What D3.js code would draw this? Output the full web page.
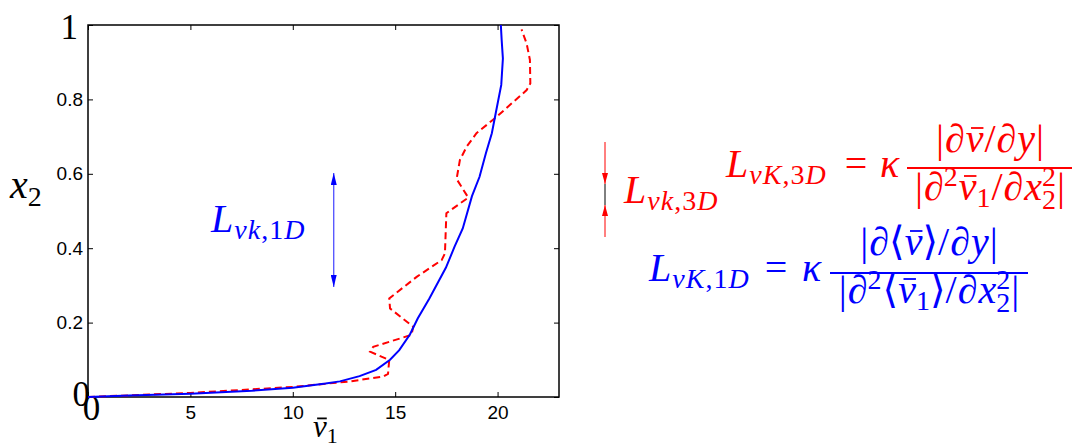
<!DOCTYPE html>
<html>
<head>
<meta charset="utf-8">
<script src="https://cdn.jsdelivr.net/npm/d3@7"></script>
<style>
body { margin: 0; background: #fff; }
.tick text { font-family: "Liberation Sans", Arial, sans-serif; font-size: 19px; fill: #000; }
</style>
</head>
<body>
<svg id="chart" width="1080" height="443"></svg>
<script>
// blue solid: <v1> (1D average), red dashed: local v1 (3D)
var blueV  = [0, 2, 5, 8, 10, 11.6, 12.3, 13.26, 14.07, 14.75, 15.2, 15.72, 16.1, 16.67, 17.48, 17.9, 18.3, 18.75, 19.12, 19.43, 19.72, 19.9, 20.18, 20.26, 20.2, 20.16];
var blueX2 = [0, 0.004, 0.009, 0.017, 0.025, 0.036, 0.042, 0.056, 0.073, 0.1, 0.126, 0.168, 0.211, 0.265, 0.348, 0.404, 0.453, 0.54, 0.592, 0.655, 0.709, 0.76, 0.839, 0.91, 0.96, 1.0];

var redV  = [0, 5, 10, 12.8, 14.42, 14.65, 14.71, 13.77, 13.93, 15.8, 15.88, 14.75, 14.71, 16.05, 17.27, 17.43, 17.5, 18.57, 18.0, 18.16, 18.49, 18.97, 19.95, 21.42, 21.6, 21.58, 21.42, 21.17];
var redX2 = [0, 0.011, 0.027, 0.042, 0.055, 0.062, 0.0995, 0.122, 0.135, 0.167, 0.189, 0.238, 0.265, 0.323, 0.368, 0.386, 0.494, 0.536, 0.586, 0.637, 0.673, 0.709, 0.753, 0.825, 0.843, 0.906, 0.95, 0.988];

var xTicks = [0, 5, 10, 15, 20];
var yTicks = [0, 0.2, 0.4, 0.6, 0.8, 1];
var yTickLabels = ["0", "0.2", "0.4", "0.6", "0.8", "1"];

// L_vk,1D arrow (data coords)
var arrow1D = {v: 12, from: 0.296, to: 0.602};

var serif = '"Liberation Serif", "Times New Roman", "DejaVu Serif", serif';

var svg = d3.select('#chart');
var x = d3.scaleLinear().domain([0, 23]).range([88, 559]);
var y = d3.scaleLinear().domain([0, 1]).range([397, 25]);

var defs = svg.append('defs');
function marker(id, color, w, l) {
    defs.append('marker')
        .attr('id', id)
        .attr('viewBox', '0 0 ' + l + ' ' + w)
        .attr('refX', l).attr('refY', w / 2)
        .attr('markerWidth', l).attr('markerHeight', w)
        .attr('markerUnits', 'userSpaceOnUse')
        .attr('orient', 'auto-start-reverse')
        .append('path')
        .attr('d', 'M0,0L' + l + ',' + (w / 2) + 'L0,' + w + 'Z')
        .attr('fill', color);
}
marker('headB', '#0000ff', 6, 12);
marker('headR', '#ff0000', 6, 11);

// axes
var gx = svg.append('g').attr('transform', 'translate(0,397)')
    .call(d3.axisBottom(x).tickValues(xTicks).tickSize(-5).tickPadding(9).tickFormat(d3.format('d')));
svg.append('g').attr('transform', 'translate(0,25)')
    .call(d3.axisTop(x).tickValues(xTicks).tickSize(-5).tickFormat(''));
var gy = svg.append('g').attr('transform', 'translate(88,0)')
    .call(d3.axisLeft(y).tickValues(yTicks).tickSize(-5).tickPadding(5)
        .tickFormat(function(d, i) { return yTickLabels[i]; }));
svg.append('g').attr('transform', 'translate(559,0)')
    .call(d3.axisRight(y).tickValues(yTicks).tickSize(-5).tickFormat(''));
svg.selectAll('.domain').remove();
svg.selectAll('.tick line').attr('stroke', '#000').attr('stroke-width', 1);

// big serif limit labels
gx.selectAll('.tick text').filter(function(d) { return d === 0; })
    .style('font-family', serif).style('font-size', '35px')
    .attr('y', 23).attr('dy', 0).attr('x', 3);
gy.selectAll('.tick text').filter(function(d) { return d === 0; })
    .style('font-family', serif).style('font-size', '35px')
    .attr('x', 2).attr('dy', 0).attr('y', 8);
gy.selectAll('.tick text').filter(function(d) { return d === 1; })
    .style('font-family', serif).style('font-size', '35px')
    .attr('x', -10).attr('dy', 0).attr('y', 13);

svg.append('rect')
    .attr('x', x(0)).attr('y', y(1))
    .attr('width', x(23) - x(0)).attr('height', y(0) - y(1))
    .attr('fill', 'none').attr('stroke', '#000').attr('stroke-width', 1.5);

// curves
var line = d3.line()
    .x(function(d) { return x(d[0]); })
    .y(function(d) { return y(d[1]); });

svg.append('path')
    .datum(d3.zip(redV, redX2))
    .attr('d', line)
    .attr('fill', 'none').attr('stroke', '#ff0000').attr('stroke-width', 2)
    .attr('stroke-dasharray', '7,4');
svg.append('path')
    .datum(d3.zip(blueV, blueX2))
    .attr('d', line)
    .attr('fill', 'none').attr('stroke', '#0000ff').attr('stroke-width', 2);

// 1D arrow
svg.append('line')
    .attr('x1', x(arrow1D.v)).attr('x2', x(arrow1D.v))
    .attr('y1', y(arrow1D.from)).attr('y2', y(arrow1D.to))
    .attr('stroke', '#4040ff').attr('stroke-width', 1.2)
    .attr('marker-start', 'url(#headB)').attr('marker-end', 'url(#headB)');

// 3D arrow (outside the axes)
var ax3 = 605;
svg.append('line').attr('x1', ax3).attr('x2', ax3).attr('y1', 142).attr('y2', 184)
    .attr('stroke', '#ff0000').attr('stroke-width', 1).attr('marker-end', 'url(#headR)');
svg.append('line').attr('x1', ax3).attr('x2', ax3).attr('y1', 237).attr('y2', 205)
    .attr('stroke', '#ff0000').attr('stroke-width', 1).attr('marker-end', 'url(#headR)');
svg.append('line').attr('x1', ax3).attr('x2', ax3).attr('y1', 184).attr('y2', 205)
    .attr('stroke', '#000').attr('stroke-width', 1);

// math text helper: parts laid out left to right
function it(t, s, dy, o) { return Object.assign({t: t, s: s, i: true, dy: dy || 0}, o || {}); }
function rm(t, s, dy, o) { return Object.assign({t: t, s: s, i: false, dy: dy || 0}, o || {}); }

function math(parts, px, py, color, anchor) {
    var g = svg.append('g');
    var cx = 0;
    parts.forEach(function(p) {
        var t = g.append('text')
            .attr('x', cx).attr('y', p.dy)
            .attr('font-family', serif)
            .attr('font-size', p.s)
            .attr('font-style', p.i ? 'italic' : 'normal')
            .attr('fill', color)
            .text(p.t);
        var w = t.node().getComputedTextLength();
        if (p.bar) {
            g.append('line')
                .attr('x1', cx + w * 0.3).attr('x2', cx + w * 1.0)
                .attr('y1', p.dy - p.s * 0.6).attr('y2', p.dy - p.s * 0.6)
                .attr('stroke', color).attr('stroke-width', 1.8);
        }
        if (!p.keep) cx += w + (p.sp || 0);
    });
    var off = anchor === 'middle' ? -cx / 2 : (anchor === 'end' ? -cx : 0);
    g.attr('transform', 'translate(' + (px + off) + ',' + py + ')');
    return g;
}

var M = 40, S = 28, k = {sp: 1};

// subscript run like "vk,1D"
function sub(a, b, c) {
    return [it(a, S, 7, k), it(b, S, 7, k), rm(',', S, 7, k), rm(c, S, 7, k), it('D', S, 7, k)];
}

// axis labels
math([it('x', M), rm('2', S, 8)], 10, 198, '#000');
math([it('v', 31, 0, {bar: true}), rm('1', 22, 6)], 313, 437, '#000');

// L_vk,1D label
math([it('L', M, 0, k)].concat(sub('v', 'k', '1')), 211, 232, '#0000ff');

// L_vk,3D label
math([it('L', M, 0, k)].concat(sub('v', 'k', '3')), 624, 203, '#ff0000');

// red formula
math([it('L', M, 0, k)].concat(sub('v', 'K', '3')), 726, 177, '#ff0000');
math([rm('=', M)], 856, 177, '#ff0000', 'middle');
math([it('κ', M)], 880, 177, '#ff0000');
math([rm('|', M, 0, k), it('∂', M, 0, k), it('v', M, 0, {bar: true, sp: 1}), rm('/', M, 0, k), it('∂', M, 0, k), it('y', M, 0, k), rm('|', M)],
    990, 152, '#ff0000', 'middle');
svg.append('line').attr('x1', 907).attr('x2', 1072).attr('y1', 168).attr('y2', 168)
    .attr('stroke', '#ff0000').attr('stroke-width', 2);
math([rm('|', M, 0, k), it('∂', M), rm('2', S, -14, k), it('v', M, 0, {bar: true}), rm('1', S, 7, k), rm('/', M, 0, k), it('∂', M, 0, k), it('x', M),
      rm('2', S, -14, {keep: true}), rm('2', S, 9, k), rm('|', M)],
    990, 200, '#ff0000', 'middle');

// blue formula
math([it('L', M, 0, k)].concat(sub('v', 'K', '1')), 649, 281, '#0000ff');
math([rm('=', M)], 776, 281, '#0000ff', 'middle');
math([it('κ', M)], 802, 281, '#0000ff');
math([rm('|', M, 0, k), it('∂', M), rm('⟨', M), it('v', M, 0, {bar: true}), rm('⟩', M), rm('/', M, 0, k), it('∂', M, 0, k), it('y', M, 0, k), rm('|', M)],
    929, 255, '#0000ff', 'middle');
svg.append('line').attr('x1', 830).attr('x2', 1028).attr('y1', 273).attr('y2', 273)
    .attr('stroke', '#0000ff').attr('stroke-width', 2);
math([rm('|', M, 0, k), it('∂', M), rm('2', S, -14, k), rm('⟨', M), it('v', M, 0, {bar: true}), rm('1', S, 7), rm('⟩', M), rm('/', M, 0, k),
      it('∂', M, 0, k), it('x', M), rm('2', S, -14, {keep: true}), rm('2', S, 9, k), rm('|', M)],
    929, 303, '#0000ff', 'middle');
</script>
</body>
</html>
